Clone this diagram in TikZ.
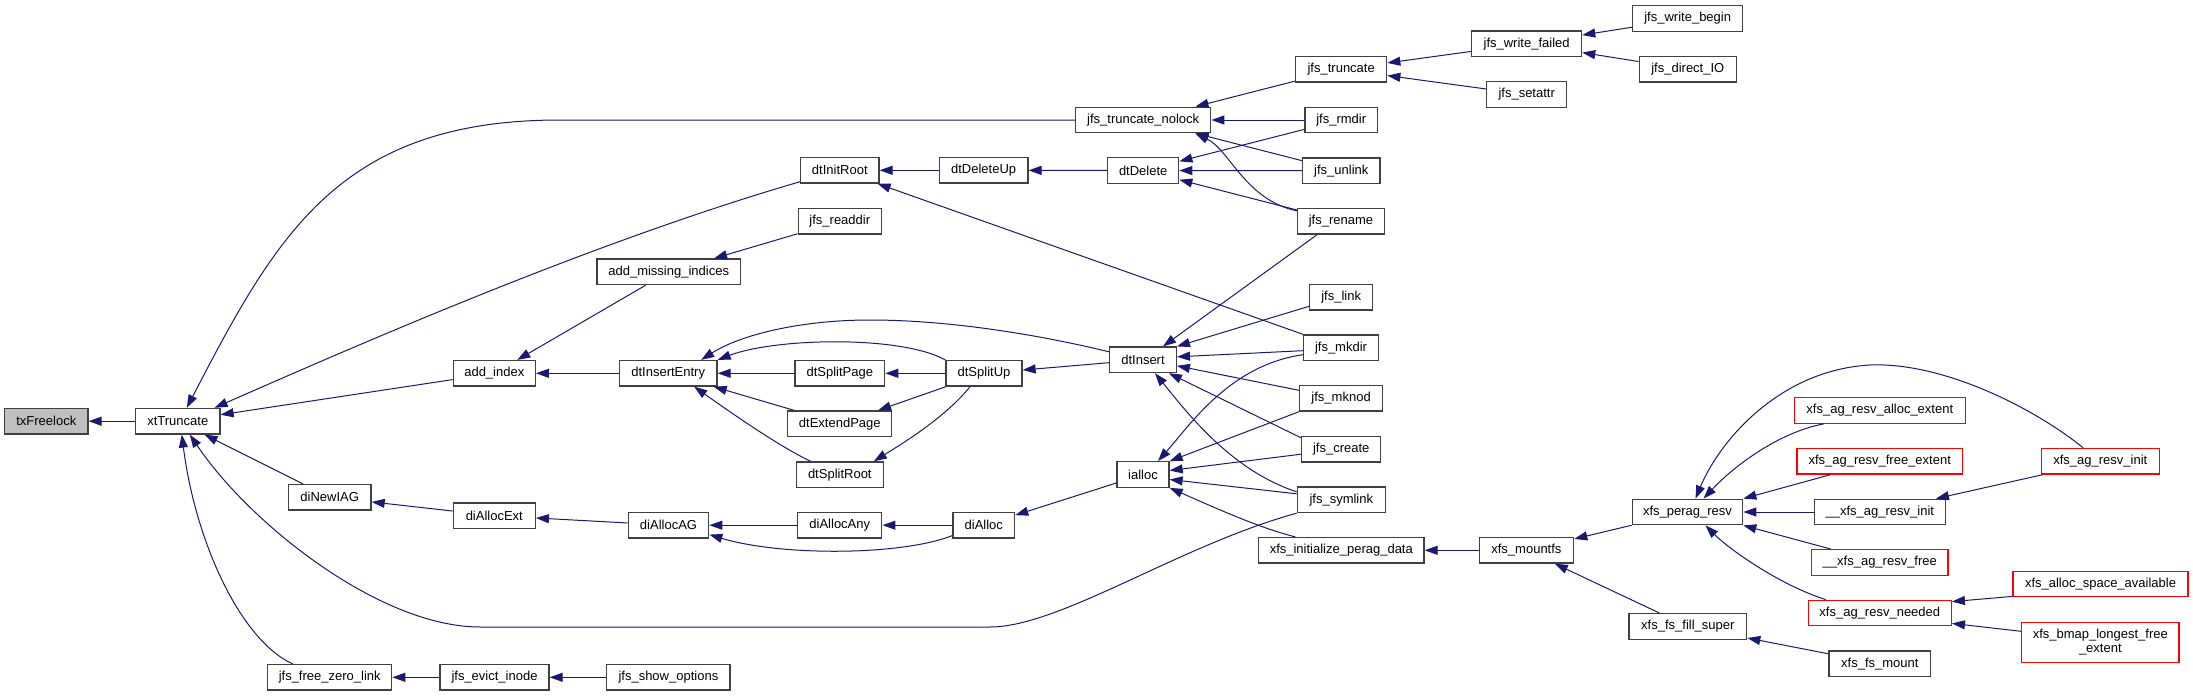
\documentclass[tikz,border=0pt]{standalone}
\usepackage{fontspec}
\setmainfont{Liberation Sans}
\usetikzlibrary{arrows.meta,calc}
\definecolor{edgeblue}{HTML}{191970}
\definecolor{nodeborder}{HTML}{404040}
\definecolor{redborder}{HTML}{FF0000}
\definecolor{rootfill}{HTML}{BFBFBF}
\tikzset{
  fn/.style={draw=nodeborder, line width=1.3pt, fill=white, minimum height=25.5pt,
    inner sep=0pt, font=\fontsize{13}{14}\selectfont, anchor=center, align=center},
  fnred/.style={fn, draw=redborder},
  edge/.style={draw=edgeblue, line width=1pt, {Triangle[length=13pt,width=9pt]}-}
}
\begin{document}
\begin{tikzpicture}[x=1pt,y=-1pt]
\useasboundingbox (0,0) rectangle (2193,696);
% nodes
\node[fn, minimum width=83.3pt, fill=rootfill] (tx) at (46.3,421.2) {txFreelock};
\node[fn, minimum width=84.3pt] (xt) at (177.8,421.2) {xtTruncate};
\node[fn, minimum width=135pt] (jtn) at (1143.2,120) {jfs\_truncate\_nolock};
\node[fn, minimum width=78.2pt] (dir) at (839.8,170.3) {dtInitRoot};
\node[fn, minimum width=88.6pt] (ddu) at (983.6,170.3) {dtDeleteUp};
\node[fn, minimum width=71pt] (dde) at (1143.2,170.5) {dtDelete};
\node[fn, minimum width=91pt] (jtr) at (1341.2,69.3) {jfs\_truncate};
\node[fn, minimum width=110pt] (jwf) at (1526.6,43.8) {jfs\_write\_failed};
\node[fn, minimum width=110pt] (jwb) at (1687.7,18.5) {jfs\_write\_begin};
\node[fn, minimum width=97pt] (jdio) at (1687.8,69.3) {jfs\_direct\_IO};
\node[fn, minimum width=80pt] (jsa) at (1526.7,94.5) {jfs\_setattr};
\node[fn, minimum width=72.3pt] (jrm) at (1341.2,120) {jfs\_rmdir};
\node[fn, minimum width=77.3pt] (jul) at (1341.3,170.7) {jfs\_unlink};
\node[fn, minimum width=86.6pt] (jrn) at (1341,221.3) {jfs\_rename};
\node[fn, minimum width=83.2pt] (jrd) at (839.8,221.3) {jfs\_readdir};
\node[fn, minimum width=143.3pt] (ami) at (668.7,271.8) {add\_missing\_indices};
\node[fn, minimum width=82pt] (aix) at (494.3,373.3) {add\_index};
\node[fn, minimum width=97.7pt] (die) at (668.2,373.3) {dtInsertEntry};
\node[fn, minimum width=89.6pt] (dsp) at (839.8,373.3) {dtSplitPage};
\node[fn, minimum width=76pt] (dsu) at (984,373.3) {dtSplitUp};
\node[fn, minimum width=66.6pt] (dins) at (1143,359.8) {dtInsert};
\node[fn, minimum width=63pt] (jlk) at (1341.2,297.3) {jfs\_link};
\node[fn, minimum width=74.7pt] (jmk) at (1341,347.7) {jfs\_mkdir};
\node[fn, minimum width=83pt] (jmn) at (1341.1,398.3) {jfs\_mknod};
\node[fn, minimum width=79pt] (jcr) at (1341.2,449.2) {jfs\_create};
\node[fn, minimum width=88pt] (jsy) at (1341.3,499.8) {jfs\_symlink};
\node[fn, minimum width=104pt] (dep) at (839.8,423.8) {dtExtendPage};
\node[fn, minimum width=86.8pt] (dsr) at (839.8,474.7) {dtSplitRoot};
\node[fn, minimum width=82.7pt] (dni) at (329.7,497.2) {diNewIAG};
\node[fn, minimum width=82pt] (dae) at (494.3,515.7) {diAllocExt};
\node[fn, minimum width=80.4pt] (dag) at (668.5,525.2) {diAllocAG};
\node[fn, minimum width=84pt] (dany) at (839.8,525.2) {diAllocAny};
\node[fn, minimum width=61.7pt] (dal) at (983.8,525.2) {diAlloc};
\node[fn, minimum width=52pt] (ial) at (1143,474.5) {ialloc};
\node[fn, minimum width=165.4pt] (xip) at (1341.3,550.3) {xfs\_initialize\_perag\_data};
\node[fn, minimum width=94.5pt] (xmf) at (1526.4,550.3) {xfs\_mountfs};
\node[fn, minimum width=110.4pt] (xpr) at (1687.5,512) {xfs\_perag\_resv};
\node[fn, minimum width=117.7pt] (xfs) at (1687.8,626.4) {xfs\_fs\_fill\_super};
\node[fnred, minimum width=171pt] (xaa) at (1879.8,410.5) {xfs\_ag\_resv\_alloc\_extent};
\node[fnred, minimum width=165.3pt] (xaf) at (1879.7,461.3) {xfs\_ag\_resv\_free\_extent};
\node[fn, minimum width=131pt] (xai2) at (1879.8,512) {\_\_xfs\_ag\_resv\_init};
\node[fnred, minimum width=136.3pt] (xfr2) at (1879.8,562.5) {\_\_xfs\_ag\_resv\_free};
\node[fnred, minimum width=143pt] (xan) at (1879.8,613) {xfs\_ag\_resv\_needed};
\node[fn, minimum width=101.7pt] (xfm) at (1879.8,663.8) {xfs\_fs\_mount};
\node[fnred, minimum width=118pt] (xai) at (2100.3,461.3) {xfs\_ag\_resv\_init};
\node[fnred, minimum width=175pt] (xasa) at (2100.5,584) {xfs\_alloc\_space\_available};
\node[fnred, minimum width=157.3pt, minimum height=40pt] (xbl) at (2100.3,642.3) {xfs\_bmap\_longest\_free\\\_extent};
\node[fn, minimum width=124pt] (jfz) at (329.7,677.3) {jfs\_free\_zero\_link};
\node[fn, minimum width=109pt] (jei) at (494.5,677.3) {jfs\_evict\_inode};
\node[fn, minimum width=123.3pt] (jso) at (668.4,677.3) {jfs\_show\_options};
% edges
\draw[edge] (tx) -- (xt);
\draw[edge] ($(xt.north)+(9,0)$) .. controls (277,234) and (340,120) .. (560,120) -- (jtn.west);
\draw[edge] ($(xt.north east)+(-6,0)$) .. controls (380,335) and (600,240) .. ($(dir.south west)+(0,-2)$);
\draw[edge] (xt) -- (aix);
\draw[edge] (xt) -- (dni);
\draw[edge] ($(xt.south)+(12,0)$) .. controls (250,524) and (380,627) .. (480,627) -- (990,627) .. controls (1060,627) and (1180,545) .. (jsy.south west);
\draw[edge] ($(xt.south)+(4,0)$) .. controls (195,540) and (240,640) .. ($(jfz.north)+(-37,0)$);
\draw[edge] (jtn) -- (jtr);
\draw[edge] (jtn) -- (jrm);
\draw[edge] (jtn) -- (jul);
\draw[edge] ($(jtn.south east)+(-16,0)$) .. controls (1230,150) and (1245,200) .. ($(jrn.north west)+(0,3)$);
\draw[edge] (jtr) -- (jwf);
\draw[edge] (jtr) -- (jsa);
\draw[edge] (jwf) -- (jwb);
\draw[edge] (jwf) -- (jdio);
\draw[edge] (dir) -- (ddu);
\draw[edge] (dir) -- (jmk);
\draw[edge] (ddu) -- (dde);
\draw[edge] (dde) -- (jrm);
\draw[edge] (dde) -- (jul);
\draw[edge] (dde) -- (jrn);
\draw[edge] (ami) -- (jrd);
\draw[edge] (aix) -- (ami);
\draw[edge] (aix) -- (die);
\draw[edge] (die) -- (dsp);
\draw[edge] (die.north east) .. controls (775,338) and (900,335) .. (dsu.north west);
\draw[edge] ($(die.north)+(33,0)$) .. controls (740,335) and (800,320) .. (870,320) .. controls (950,320) and (1040,335) .. ($(dins.west)+(0,-8)$);
\draw[edge] (die) -- (dep);
\draw[edge] ($(die.south)+(26,0)$) .. controls (730,412) and (780,447) .. ($(dsr.north west)+(15,0)$);
\draw[edge] (dsp) -- (dsu);
\draw[edge] (dep) -- (dsu);
\draw[edge] ($(dsr.north east)+(-10,0)$) .. controls (900,445) and (945,418) .. ($(dsu.south)+(-14,0)$);
\draw[edge] (dsu) -- (dins);
\draw[edge] ($(dins.north)+(20,0)$) -- ($(jrn.south west)+(20,0)$);
\draw[edge] (dins.north east) -- ($(jlk.west)+(0,9)$);
\draw[edge] ($(dins.east)+(0,-3)$) -- ($(jmk.west)+(0,3)$);
\draw[edge] ($(dins.east)+(0,6)$) -- ($(jmn.west)+(0,-8)$);
\draw[edge] ($(dins.south east)+(-8,0)$) -- ($(jcr.north west)+(0,2)$);
\draw[edge] ($(dins.south)+(12,0)$) .. controls (1185,410) and (1230,470) .. ($(jsy.west)+(0,-8)$);
\draw[edge] ($(ial.north)+(15,0)$) .. controls (1190,425) and (1230,365) .. ($(jmk.west)+(0,7)$);
\draw[edge] (ial.north east) -- (jmn.south west);
\draw[edge] ($(ial.east)+(0,-4)$) -- ($(jcr.west)+(0,5)$);
\draw[edge] ($(ial.east)+(0,5)$) -- ($(jsy.west)+(0,-6)$);
\draw[edge] (ial.south east) .. controls (1220,510) and (1260,528) .. ($(xip.north)+(-46,0)$);
\draw[edge] (dal) -- (ial);
\draw[edge] (dany) -- (dal);
\draw[edge] (dag) -- (dany);
\draw[edge] ($(dag.south east)+(0,-4)$) .. controls (780,556) and (900,556) .. ($(dal.south west)+(0,-3)$);
\draw[edge] (dae) -- (dag);
\draw[edge] (dni) -- (dae);
\draw[edge] (xip) -- (xmf);
\draw[edge] (xmf) -- (xpr);
\draw[edge] (xmf) -- (xfs);
\draw[edge] (xfs) -- (xfm);
\draw[edge] ($(xpr.north)+(8,0)$) .. controls (1720,440) and (1780,370) .. (1870,365) .. controls (1940,362) and (2030,405) .. ($(xai.north)+(-17,0)$);
\draw[edge] ($(xpr.north)+(16,0)$) .. controls (1735,465) and (1780,432) .. ($(xaa.south west)+(30,0)$);
\draw[edge] (xpr.north east) -- ($(xaf.south west)+(34,0)$);
\draw[edge] (xpr) -- (xai2);
\draw[edge] (xpr.south east) -- ($(xfr2.north west)+(20,0)$);
\draw[edge] ($(xpr.south)+(18,0)$) .. controls (1730,550) and (1780,585) .. ($(xan.north west)+(18,0)$);
\draw[edge] ($(xai2.north east)+(-10,0)$) -- ($(xai.south west)+(2,0)$);
\draw[edge] ($(xan.north east)+(0,2)$) -- ($(xasa.south west)+(0,-1)$);
\draw[edge] ($(xan.south east)+(0,-3)$) -- ($(xbl.west)+(0,-11)$);
\draw[edge] (jfz) -- (jei);
\draw[edge] (jei) -- (jso);
\end{tikzpicture}
\end{document}
